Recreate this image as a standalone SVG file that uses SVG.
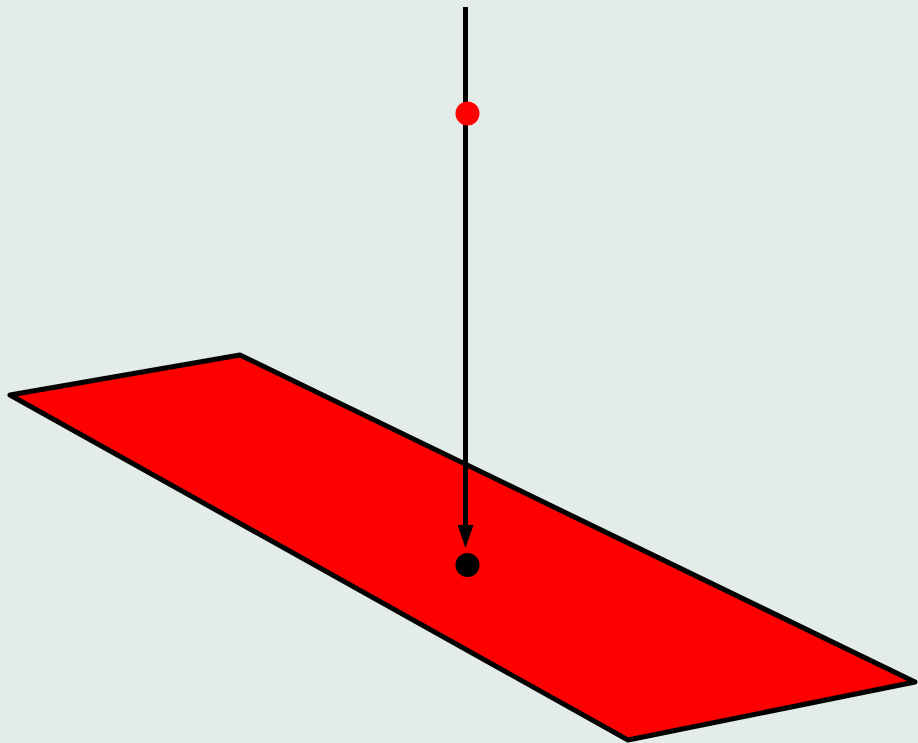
<svg xmlns="http://www.w3.org/2000/svg" width="918" height="743" viewBox="0 0 918 743">
<style>
.edge{stroke:#000;stroke-width:5;fill:none}
</style>
<defs>
<marker id="ah" markerUnits="userSpaceOnUse" markerWidth="18" markerHeight="24" refX="8" refY="22" orient="auto-start-reverse" viewBox="0 0 16 24">
<path d="M0,0 L16,0 L8,22 Z" fill="#000" transform="rotate(0)"/>
</marker>
</defs>
<rect width="918" height="743" fill="#e3ece9"/>
<g id="plane">
<polygon points="10,395 240,355 915,682 628,740" fill="#ff0000" stroke="#000" stroke-width="5" stroke-linejoin="round"/>
</g>
<g id="connectors">
<line x1="465.5" y1="7" x2="465.5" y2="528" class="edge"/>
<path d="M457.5,525 L473.5,525 L465.5,548 Z" fill="#000"/>
</g>
<g id="source">
<circle cx="467.5" cy="113.5" r="12" fill="#ff0000"/>
</g>
<g id="target">
<circle cx="467.5" cy="565" r="12" fill="#000"/>
</g>
</svg>
